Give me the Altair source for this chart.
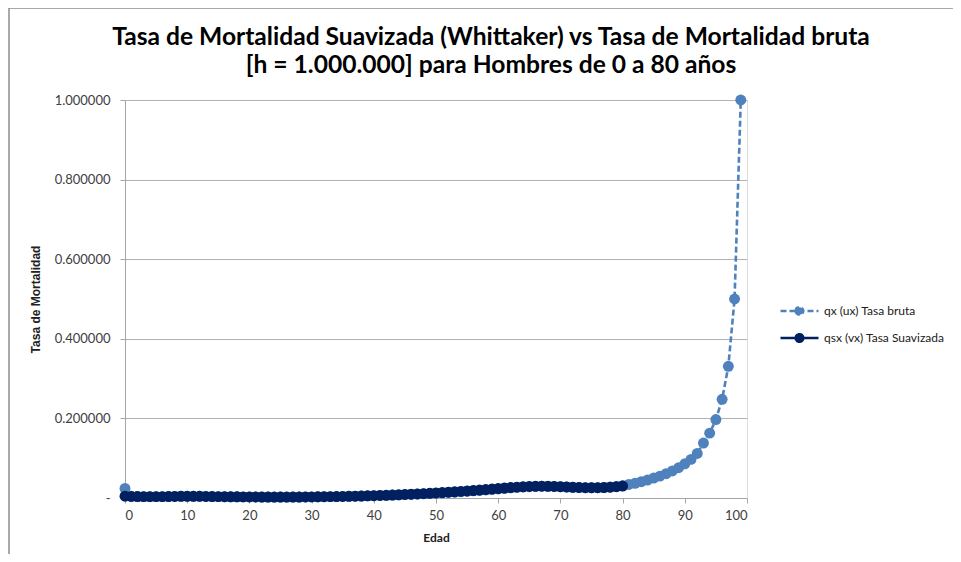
import altair as alt
import pandas as pd

ages_raw = list(range(0, 100))
qx_raw = [
    0.0240, 0.0042, 0.0036, 0.0034, 0.0033, 0.0035, 0.0034, 0.0038, 0.0041, 0.0043,
    0.0045, 0.0042, 0.0044, 0.0039, 0.0036, 0.0035, 0.0031, 0.0030, 0.0030, 0.0027,
    0.0028, 0.0026, 0.0024, 0.0025, 0.0022, 0.0024, 0.0022, 0.0024, 0.0023, 0.0027,
    0.0027, 0.0031, 0.0032, 0.0035, 0.0035, 0.0040, 0.0042, 0.0045, 0.0049, 0.0053,
    0.0057, 0.0063, 0.0066, 0.0073, 0.0078, 0.0085, 0.0090, 0.0098, 0.0105, 0.0112,
    0.0122, 0.0128, 0.0139, 0.0147, 0.0158, 0.0168, 0.0180, 0.0190, 0.0203, 0.0215,
    0.0228, 0.0240, 0.0255, 0.0266, 0.0278, 0.0284, 0.0292, 0.0296, 0.0292, 0.0290,
    0.0282, 0.0276, 0.0268, 0.0262, 0.0258, 0.0256, 0.0260, 0.0266, 0.0276, 0.0292,
    0.0310, 0.0340, 0.0370, 0.0410, 0.0450, 0.0500, 0.0550, 0.0610, 0.0680, 0.0760,
    0.0860, 0.0970, 0.1120, 0.1380, 0.1630, 0.1970, 0.2480, 0.3310, 0.5000, 1.0000,
]

ages_smooth = list(range(0, 81))
qsx_smooth = [
    0.0045, 0.0040, 0.0037, 0.0035, 0.0034, 0.0034, 0.0035, 0.0037, 0.0040, 0.0042,
    0.0043, 0.0043, 0.0042, 0.0040, 0.0037, 0.0034, 0.0032, 0.0030, 0.0029, 0.0028,
    0.0027, 0.0026, 0.0025, 0.0024, 0.0023, 0.0023, 0.0023, 0.0023, 0.0024, 0.0026,
    0.0028, 0.0030, 0.0032, 0.0034, 0.0036, 0.0039, 0.0042, 0.0046, 0.0050, 0.0054,
    0.0059, 0.0064, 0.0069, 0.0075, 0.0081, 0.0088, 0.0095, 0.0102, 0.0110, 0.0118,
    0.0127, 0.0136, 0.0146, 0.0156, 0.0166, 0.0177, 0.0188, 0.0200, 0.0212, 0.0225,
    0.0238, 0.0250, 0.0262, 0.0273, 0.0282, 0.0289, 0.0294, 0.0296, 0.0294, 0.0290,
    0.0284, 0.0277, 0.0270, 0.0264, 0.0260, 0.0258, 0.0259, 0.0263, 0.0271, 0.0284,
    0.0300,
]

series_names = ["qx (ux) Tasa bruta", "qsx (vx) Tasa Suavizada"]
series_colors = ["#4F81BD", "#002060"]

df = pd.concat([
    pd.DataFrame({"Edad": ages_raw, "q": qx_raw, "serie": series_names[0], "orden": 0}),
    pd.DataFrame({"Edad": ages_smooth, "q": qsx_smooth, "serie": series_names[1], "orden": 1}),
])

FONT = "Lato"
LABEL_COLOR = "#404040"

color = alt.Color(
    "serie:N",
    scale=alt.Scale(domain=series_names, range=series_colors),
    legend=alt.Legend(
        title=None,
        orient="none",
        legendX=654,
        legendY=203,
        symbolType="M-1,0L1,0M-0.2,0A0.2,0.2 0 1,0 0.2,0A0.2,0.2 0 1,0 -0.2,0Z",
        symbolSize=1444,
        symbolStrokeWidth=2.5,
        labelFont=FONT,
        labelFontSize=12,
        labelColor="#202020",
        clipHeight=16,
        rowPadding=11,
        labelOffset=4,
    ),
)
dash = alt.StrokeDash(
    "serie:N",
    scale=alt.Scale(domain=series_names, range=[[6, 3], [1, 0]]),
    legend=None,
)

x = alt.X(
    "Edad:Q",
    scale=alt.Scale(domain=[0, 100], nice=False),
    axis=alt.Axis(
        values=list(range(0, 101, 10)),
        grid=False,
        title="Edad",
        titleFont=FONT,
        titleFontSize=12,
        titleFontWeight="bold",
        titleColor="#202020",
        titlePadding=10,
        labelFont=FONT,
        labelFontSize=13,
        labelColor=LABEL_COLOR,
        labelPadding=6,
        tickSize=5,
        tickColor="#A6A6A6",
        domainColor="#A6A6A6",
    ),
)
y = alt.Y(
    "q:Q",
    scale=alt.Scale(domain=[0, 1], nice=False),
    axis=alt.Axis(
        values=[0, 0.2, 0.4, 0.6, 0.8, 1.0],
        labelExpr="datum.value == 0 ? '-' : format(datum.value, '.6f')",
        title="Tasa de Mortalidad",
        titleFont="Liberation Sans",
        titleFontSize=12,
        titleFontWeight="bold",
        titleColor="#202020",
        titlePadding=12,
        labelFont=FONT,
        labelFontSize=13,
        labelColor=LABEL_COLOR,
        labelPadding=10,
        tickSize=5,
        tickColor="#A6A6A6",
        domainColor="#A6A6A6",
        gridColor="#B3B3B3",
        gridWidth=1,
    ),
)

lines = alt.Chart(df).mark_line(strokeWidth=2.6).encode(
    x=x, y=y, color=color, strokeDash=dash, order="Edad:Q", detail="serie:N"
)
points = alt.Chart(df).mark_circle(size=120, opacity=1).encode(
    x=x, y=y, color=alt.Color("serie:N", scale=alt.Scale(domain=series_names, range=series_colors), legend=None),
    order="orden:Q",
)

frame = alt.Chart(pd.DataFrame({"k": [0]})).mark_rule(color="#8C8C8C", strokeWidth=1.5).encode(
    x=alt.value(-116), y=alt.value(-92), y2=alt.value(470)
)
frame_top = alt.Chart(pd.DataFrame({"k": [0]})).mark_rule(color="#8C8C8C", strokeWidth=1.5).encode(
    x=alt.value(-116), x2=alt.value(840), y=alt.value(-92)
)

chart = alt.layer(frame, frame_top, lines, points).properties(
    width=622,
    height=398,
    autosize=alt.AutoSizeParams(type="none"),
    padding={"left": 117, "top": 92, "right": 206, "bottom": 56},
    title=alt.Title(
        ["Tasa de Mortalidad Suavizada (Whittaker) vs Tasa de Mortalidad bruta",
         "[h = 1.000.000] para Hombres de 0 a 80 años"],
        font=FONT,
        fontSize=24.6,
        fontWeight="bold",
        color="#000000",
        lineHeight=28,
        anchor="middle",
        baseline="top",
        dx=55,
        dy=71,
        offset=0,
    ),
).configure_view(stroke=None).configure(background="white")

chart.save("out.html", embed_options={"renderer": "svg", "actions": False})
